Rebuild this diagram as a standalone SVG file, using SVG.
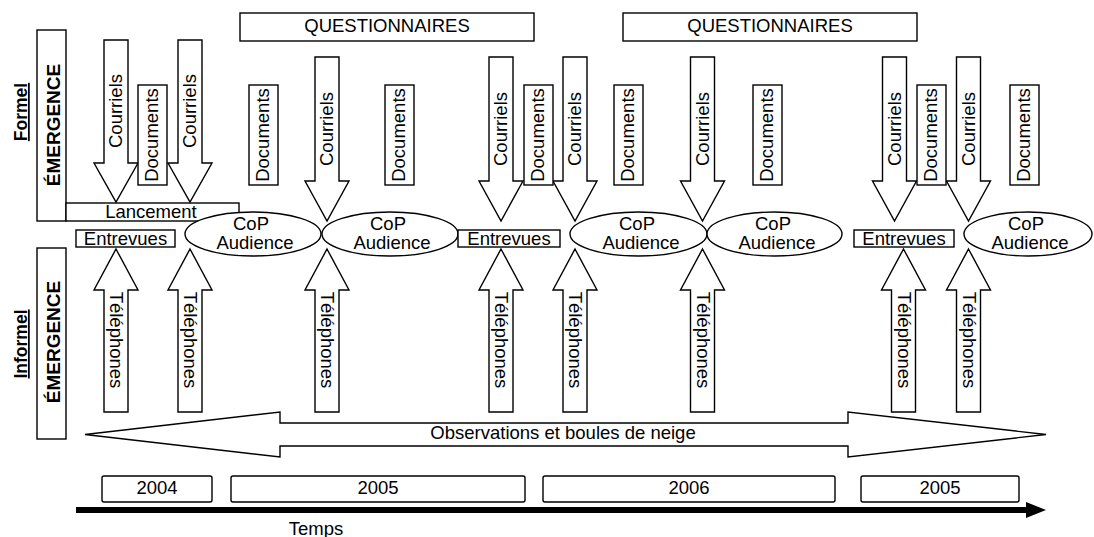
<svg xmlns="http://www.w3.org/2000/svg" width="1094" height="537" viewBox="0 0 1094 537">
  <style>
    .box { fill: #fff; stroke: #000; stroke-width: 1.4; }
    .arr { fill: #fff; stroke: #000; stroke-width: 1.4; stroke-linejoin: miter; }
    .t { font-family: "Liberation Sans", Arial, sans-serif; font-size: 18.5px; fill: #000; text-anchor: middle; }
    .b { font-weight: bold; font-size: 19px; }
    .side { font-weight: bold; font-size: 17.5px; text-decoration: underline; }
  </style>
  <rect width="1094" height="537" fill="#fff"/>

  <!-- side labels -->
  <g id="label-formel">
    <text class="t side" transform="rotate(-90 27 112)" x="27" y="112">Formel</text>
  </g>
  <g id="label-informel">
    <text class="t side" transform="rotate(-90 27 344)" x="27" y="344">Informel</text>
  </g>

  <!-- formal emergence band with launch bar -->
  <g id="emergence-formel">
    <rect class="box" x="37" y="30" width="29" height="191"/>
    <text class="t b" transform="rotate(-90 60 125)" x="60" y="125">ÉMERGENCE</text>
  </g>
  <g id="lancement">
    <rect class="box" x="66" y="203" width="173" height="18"/>
    <text class="t" x="151" y="218">Lancement</text>
  </g>

  <!-- informal emergence band -->
  <g id="emergence-informel">
    <rect class="box" x="37" y="248" width="29" height="191"/>
    <text class="t b" transform="rotate(-90 60 342)" x="60" y="342">ÉMERGENCE</text>
  </g>

  <!-- questionnaires -->
  <g id="questionnaires-1">
    <rect class="box" x="240" y="13" width="294" height="28"/>
    <text class="t" x="387" y="32">QUESTIONNAIRES</text>
  </g>
  <g id="questionnaires-2">
    <rect class="box" x="623" y="13" width="294" height="28"/>
    <text class="t" x="770" y="32">QUESTIONNAIRES</text>
  </g>

  <!-- e-mail arrows (down) -->
  <g id="courriels-1">
    <polygon class="arr" points="104,40 128,40 128,163 138,163 116,202 94,163 104,163"/>
    <text class="t" transform="rotate(-90 122 111)" x="122" y="111">Courriels</text>
  </g>
  <g id="courriels-2">
    <polygon class="arr" points="178,40 202,40 202,163 212,163 190,202 168,163 178,163"/>
    <text class="t" transform="rotate(-90 196 111)" x="196" y="111">Courriels</text>
  </g>
  <g id="courriels-3">
    <polygon class="arr" points="315,57 339,57 339,181 349,181 327,221 305,181 315,181"/>
    <text class="t" transform="rotate(-90 333 129)" x="333" y="129">Courriels</text>
  </g>
  <g id="courriels-4">
    <polygon class="arr" points="489,57 513,57 513,181 523,181 501,221 479,181 489,181"/>
    <text class="t" transform="rotate(-90 507 129)" x="507" y="129">Courriels</text>
  </g>
  <g id="courriels-5">
    <polygon class="arr" points="563,57 587,57 587,181 597,181 575,221 553,181 563,181"/>
    <text class="t" transform="rotate(-90 581 129)" x="581" y="129">Courriels</text>
  </g>
  <g id="courriels-6">
    <polygon class="arr" points="690.5,57 714.5,57 714.5,181 724.5,181 702.5,221 680.5,181 690.5,181"/>
    <text class="t" transform="rotate(-90 708.5 129)" x="708.5" y="129">Courriels</text>
  </g>
  <g id="courriels-7">
    <polygon class="arr" points="882.5,57 906.5,57 906.5,181 916.5,181 894.5,221 872.5,181 882.5,181"/>
    <text class="t" transform="rotate(-90 900.5 129)" x="900.5" y="129">Courriels</text>
  </g>
  <g id="courriels-8">
    <polygon class="arr" points="956.5,57 980.5,57 980.5,181 990.5,181 968.5,221 946.5,181 956.5,181"/>
    <text class="t" transform="rotate(-90 974.5 129)" x="974.5" y="129">Courriels</text>
  </g>

  <!-- documents -->
  <g id="documents-1">
    <rect class="box" x="138" y="85" width="29" height="100"/>
    <text class="t" transform="rotate(-90 157.5 135)" x="157.5" y="135">Documents</text>
  </g>
  <g id="documents-2">
    <rect class="box" x="249" y="85" width="29" height="100"/>
    <text class="t" transform="rotate(-90 268.5 135)" x="268.5" y="135">Documents</text>
  </g>
  <g id="documents-3">
    <rect class="box" x="385" y="85" width="29" height="100"/>
    <text class="t" transform="rotate(-90 404.5 135)" x="404.5" y="135">Documents</text>
  </g>
  <g id="documents-4">
    <rect class="box" x="524" y="85" width="29" height="100"/>
    <text class="t" transform="rotate(-90 543.5 135)" x="543.5" y="135">Documents</text>
  </g>
  <g id="documents-5">
    <rect class="box" x="614" y="85" width="29" height="100"/>
    <text class="t" transform="rotate(-90 633.5 135)" x="633.5" y="135">Documents</text>
  </g>
  <g id="documents-6">
    <rect class="box" x="753" y="85" width="29" height="100"/>
    <text class="t" transform="rotate(-90 772.5 135)" x="772.5" y="135">Documents</text>
  </g>
  <g id="documents-7">
    <rect class="box" x="917" y="85" width="29" height="100"/>
    <text class="t" transform="rotate(-90 936.5 135)" x="936.5" y="135">Documents</text>
  </g>
  <g id="documents-8">
    <rect class="box" x="1010" y="85" width="29" height="100"/>
    <text class="t" transform="rotate(-90 1029.5 135)" x="1029.5" y="135">Documents</text>
  </g>

  <!-- CoP audiences -->
  <g id="cop-1">
    <ellipse class="box" cx="253" cy="234" rx="68" ry="22"/>
    <text class="t" x="251" y="230">CoP</text>
    <text class="t" x="255" y="249">Audience</text>
  </g>
  <g id="cop-2">
    <ellipse class="box" cx="390" cy="234" rx="68" ry="22"/>
    <text class="t" x="388" y="230">CoP</text>
    <text class="t" x="392" y="249">Audience</text>
  </g>
  <g id="cop-3">
    <ellipse class="box" cx="638.5" cy="234" rx="68.5" ry="22"/>
    <text class="t" x="637" y="230">CoP</text>
    <text class="t" x="641" y="249">Audience</text>
  </g>
  <g id="cop-4">
    <ellipse class="box" cx="774.5" cy="234" rx="67.5" ry="22"/>
    <text class="t" x="773" y="230">CoP</text>
    <text class="t" x="777" y="249">Audience</text>
  </g>
  <g id="cop-5">
    <ellipse class="box" cx="1028" cy="234" rx="64" ry="22"/>
    <text class="t" x="1026" y="230">CoP</text>
    <text class="t" x="1030" y="249">Audience</text>
  </g>

  <!-- interviews -->
  <g id="entrevues-1">
    <rect class="box" x="76" y="230" width="99" height="17"/>
    <text class="t" x="125.5" y="245">Entrevues</text>
  </g>
  <g id="entrevues-2">
    <rect class="box" x="458" y="230" width="102" height="17"/>
    <text class="t" x="509" y="245">Entrevues</text>
  </g>
  <g id="entrevues-3">
    <rect class="box" x="854" y="230" width="100" height="17"/>
    <text class="t" x="904" y="245">Entrevues</text>
  </g>

  <!-- phone arrows (up) -->
  <g id="telephones-1">
    <polygon class="arr" points="116,249 138,290 128,290 128,412 104,412 104,290 94,290"/>
    <text class="t" transform="rotate(90 110 340)" x="110" y="340">Téléphones</text>
  </g>
  <g id="telephones-2">
    <polygon class="arr" points="190,249 212,290 202,290 202,412 178,412 178,290 168,290"/>
    <text class="t" transform="rotate(90 184 340)" x="184" y="340">Téléphones</text>
  </g>
  <g id="telephones-3">
    <polygon class="arr" points="327,249 349,290 339,290 339,412 315,412 315,290 305,290"/>
    <text class="t" transform="rotate(90 321 340)" x="321" y="340">Téléphones</text>
  </g>
  <g id="telephones-4">
    <polygon class="arr" points="501,249 523,290 513,290 513,412 489,412 489,290 479,290"/>
    <text class="t" transform="rotate(90 495 340)" x="495" y="340">Téléphones</text>
  </g>
  <g id="telephones-5">
    <polygon class="arr" points="575,249 597,290 587,290 587,412 563,412 563,290 553,290"/>
    <text class="t" transform="rotate(90 569 340)" x="569" y="340">Téléphones</text>
  </g>
  <g id="telephones-6">
    <polygon class="arr" points="702.5,249 724.5,290 714.5,290 714.5,412 690.5,412 690.5,290 680.5,290"/>
    <text class="t" transform="rotate(90 696.5 340)" x="696.5" y="340">Téléphones</text>
  </g>
  <g id="telephones-7">
    <polygon class="arr" points="903.5,249 925.5,290 915.5,290 915.5,412 891.5,412 891.5,290 881.5,290"/>
    <text class="t" transform="rotate(90 897.5 340)" x="897.5" y="340">Téléphones</text>
  </g>
  <g id="telephones-8">
    <polygon class="arr" points="968.5,249 990.5,290 980.5,290 980.5,412 956.5,412 956.5,290 946.5,290"/>
    <text class="t" transform="rotate(90 962.5 340)" x="962.5" y="340">Téléphones</text>
  </g>

  <!-- observations: double-headed block arrow -->
  <g id="observations">
    <polygon class="arr" points="85,434.5 280,412 280,423 848,423 848,412 1046,434.5 848,457 848,446 280,446 280,457"/>
    <text class="t" x="563" y="439">Observations et boules de neige</text>
  </g>

  <!-- years -->
  <g id="annee-2004">
    <rect class="box" x="102" y="476" width="110" height="26" rx="2"/>
    <text class="t" x="157" y="494">2004</text>
  </g>
  <g id="annee-2005a">
    <rect class="box" x="231" y="476" width="294" height="26" rx="2"/>
    <text class="t" x="378" y="494">2005</text>
  </g>
  <g id="annee-2006">
    <rect class="box" x="543" y="476" width="292" height="26" rx="2"/>
    <text class="t" x="689" y="494">2006</text>
  </g>
  <g id="annee-2005b">
    <rect class="box" x="861" y="476" width="158" height="26" rx="2"/>
    <text class="t" x="940" y="494">2005</text>
  </g>

  <!-- time axis -->
  <g id="connectors">
    <line x1="76" y1="510" x2="1030" y2="510" stroke="#000" stroke-width="6"/>
    <polygon points="1026,502 1046,510 1026,518" fill="#000"/>
  </g>
  <g id="temps">
    <text class="t" x="316" y="535">Temps</text>
  </g>
</svg>
